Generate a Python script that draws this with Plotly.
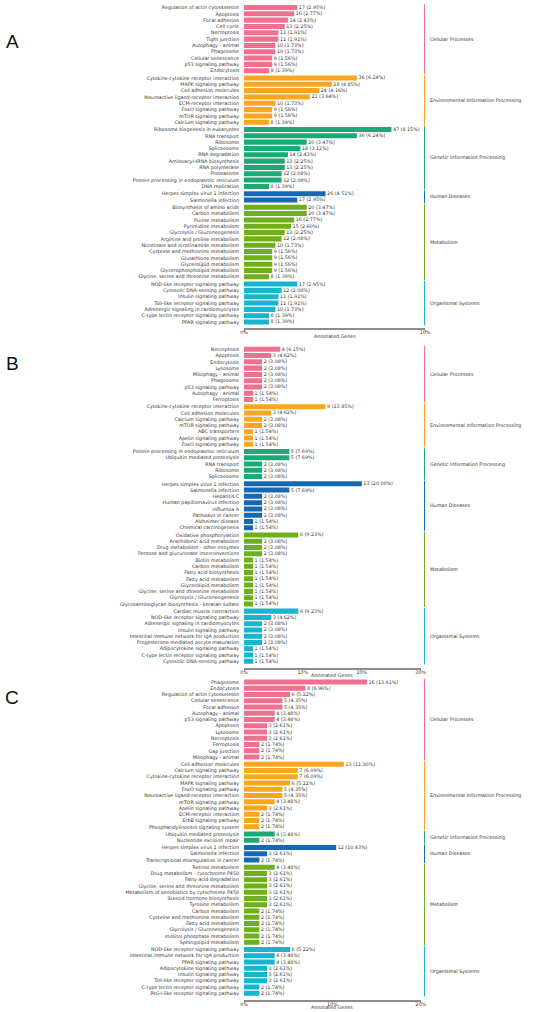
import plotly.graph_objects as go

CLASSES = ["Cellular Processes", "Environmental Information Processing",
           "Genetic Information Processing", "Human Diseases",
           "Metabolism", "Organismal Systems"]
CLASS_COLORS = ["#F2708F", "#FBA61E", "#1BAA76", "#1668B2", "#6DB01C", "#19B4CE"]

# panel A
a_pathways = [
    "Regulation of actin cytoskeleton", "Apoptosis", "Focal adhesion", "Cell cycle",
    "Necroptosis", "Tight junction", "Autophagy - animal", "Phagosome",
    "Cellular senescence", "p53 signaling pathway", "Endocytosis",
    "Cytokine-cytokine receptor interaction", "MAPK signaling pathway",
    "Cell adhesion molecules", "Neuroactive ligand-receptor interaction",
    "ECM-receptor interaction", "FoxO signaling pathway", "mTOR signaling pathway",
    "Calcium signaling pathway",
    "Ribosome biogenesis in eukaryotes", "RNA transport", "Ribosome", "Spliceosome",
    "RNA degradation", "Aminoacyl-tRNA biosynthesis", "RNA polymerase", "Proteasome",
    "Protein processing in endoplasmic reticulum", "DNA replication",
    "Herpes simplex virus 1 infection", "Salmonella infection",
    "Biosynthesis of amino acids", "Carbon metabolism", "Purine metabolism",
    "Pyrimidine metabolism", "Glycolysis / Gluconeogenesis",
    "Arginine and proline metabolism", "Nicotinate and nicotinamide metabolism",
    "Cysteine and methionine metabolism", "Glutathione metabolism",
    "Glycerolipid metabolism", "Glycerophospholipid metabolism",
    "Glycine, serine and threonine metabolism",
    "NOD-like receptor signaling pathway", "Cytosolic DNA-sensing pathway",
    "Insulin signaling pathway", "Toll-like receptor signaling pathway",
    "Adrenergic signaling in cardiomyocytes", "C-type lectin receptor signaling pathway",
    "PPAR signaling pathway",
]
a_genes = [17, 16, 14, 13, 11, 11, 10, 10, 9, 9, 8,
           36, 28, 24, 21, 10, 9, 9, 8,
           47, 36, 20, 18, 14, 13, 13, 12, 12, 8,
           26, 17,
           20, 20, 16, 15, 13, 12, 10, 9, 9, 9, 9, 8,
           17, 12, 11, 11, 10, 8, 8]
a_class_sizes = [11, 8, 10, 2, 12, 7]
a_total = 577

# panel B
b_pathways = [
    "Necroptosis", "Apoptosis", "Endocytosis", "Lysosome", "Mitophagy - animal",
    "Phagosome", "p53 signaling pathway", "Autophagy - animal", "Ferroptosis",
    "Cytokine-cytokine receptor interaction", "Cell adhesion molecules",
    "Calcium signaling pathway", "mTOR signaling pathway", "ABC transporters",
    "Apelin signaling pathway", "FoxO signaling pathway",
    "Protein processing in endoplasmic reticulum", "Ubiquitin mediated proteolysis",
    "RNA transport", "Ribosome", "Spliceosome",
    "Herpes simplex virus 1 infection", "Salmonella infection", "Hepatitis C",
    "Human papillomavirus infection", "Influenza A", "Pathways in cancer",
    "Alzheimer disease", "Chemical carcinogenesis",
    "Oxidative phosphorylation", "Arachidonic acid metabolism",
    "Drug metabolism - other enzymes", "Pentose and glucuronate interconversions",
    "Biotin metabolism", "Carbon metabolism", "Fatty acid biosynthesis",
    "Fatty acid metabolism", "Glycerolipid metabolism",
    "Glycine, serine and threonine metabolism", "Glycolysis / Gluconeogenesis",
    "Glycosaminoglycan biosynthesis - keratan sulfate",
    "Cardiac muscle contraction", "NOD-like receptor signaling pathway",
    "Adrenergic signaling in cardiomyocytes", "Insulin signaling pathway",
    "Intestinal immune network for IgA production",
    "Progesterone-mediated oocyte maturation", "Adipocytokine signaling pathway",
    "C-type lectin receptor signaling pathway", "Cytosolic DNA-sensing pathway",
]
b_genes = [4, 3, 2, 2, 2, 2, 2, 1, 1,
           9, 3, 2, 2, 1, 1, 1,
           5, 5, 2, 2, 2,
           13, 5, 2, 2, 2, 2, 1, 1,
           6, 2, 2, 2, 1, 1, 1, 1, 1, 1, 1, 1,
           6, 3, 2, 2, 2, 2, 1, 1, 1]
b_class_sizes = [9, 7, 5, 8, 12, 9]
b_total = 65

# panel C
c_pathways = [
    "Phagosome", "Endocytosis", "Regulation of actin cytoskeleton",
    "Cellular senescence", "Focal adhesion", "Autophagy - animal",
    "p53 signaling pathway", "Apoptosis", "Lysosome", "Necroptosis", "Ferroptosis",
    "Gap junction", "Mitophagy - animal",
    "Cell adhesion molecules", "Calcium signaling pathway",
    "Cytokine-cytokine receptor interaction", "MAPK signaling pathway",
    "FoxO signaling pathway", "Neuroactive ligand-receptor interaction",
    "mTOR signaling pathway", "Apelin signaling pathway", "ECM-receptor interaction",
    "ErbB signaling pathway", "Phosphatidylinositol signaling system",
    "Ubiquitin mediated proteolysis", "Nucleotide excision repair",
    "Herpes simplex virus 1 infection", "Salmonella infection",
    "Transcriptional misregulation in cancer",
    "Retinol metabolism", "Drug metabolism - cytochrome P450",
    "Fatty acid degradation", "Glycine, serine and threonine metabolism",
    "Metabolism of xenobiotics by cytochrome P450", "Steroid hormone biosynthesis",
    "Tyrosine metabolism", "Carbon metabolism", "Cysteine and methionine metabolism",
    "Fatty acid metabolism", "Glycolysis / Gluconeogenesis",
    "Inositol phosphate metabolism", "Sphingolipid metabolism",
    "NOD-like receptor signaling pathway",
    "Intestinal immune network for IgA production", "PPAR signaling pathway",
    "Adipocytokine signaling pathway", "Insulin signaling pathway",
    "Toll-like receptor signaling pathway", "C-type lectin receptor signaling pathway",
    "RIG-I-like receptor signaling pathway",
]
c_genes = [16, 8, 6, 5, 5, 4, 4, 3, 3, 3, 2, 2, 2,
           13, 7, 7, 6, 5, 5, 4, 3, 2, 2, 2,
           4, 2,
           12, 3, 2,
           4, 3, 3, 3, 3, 3, 3, 2, 2, 2, 2, 2, 2,
           6, 4, 4, 3, 3, 3, 2, 2]
c_class_sizes = [13, 11, 2, 3, 13, 8]
c_total = 115

W, H = 550, 1012
GAP = 0.15
FONT = "DejaVu Sans"
FS = 4.8

# letter, data, x max, ticks, first/last bar centre (px), axis end (px), letter y (px)
panels = [
    ("A", a_pathways, a_genes, a_class_sizes, a_total, 10, [0, 10], 7.5, 322.0, 425.0, 42),
    ("B", b_pathways, b_genes, b_class_sizes, b_total, 30, [0, 10, 20, 30], 349.3, 661.3, 420.7, 363),
    ("C", c_pathways, c_genes, c_class_sizes, c_total, 20, [0, 10, 20], 682.0, 993.3, 420.7, 697),
]

X0_PX = 244.0
LINE_PX = 424.5

fig = go.Figure()
shapes = []
annotations = []

for k, (letter, names, genes, sizes, total, xmax, ticks, first_px, last_px, x1_px, letter_px) in enumerate(panels):
    sfx = "" if k == 0 else str(k + 1)
    pos, cls = [], []
    p = 0.0
    for gi, n in enumerate(sizes):
        for _ in range(n):
            pos.append(p)
            cls.append(gi)
            p += 1
        p += GAP
    pct = [g / total * 100 for g in genes]
    unit = (last_px - first_px) / pos[-1]
    top_px = max(0.0, first_px - 0.6 * unit)
    bot_px = last_px + 1.0 * unit
    range_top = -(first_px - top_px) / unit

    fig.add_trace(go.Bar(
        x=pct, y=pos, orientation="h", width=0.8,
        marker=dict(color=[CLASS_COLORS[c] for c in cls], line=dict(width=0)),
        text=[f"\u00a0{g} ({v:.2f}%)" for g, v in zip(genes, pct)],
        textposition="outside", constraintext="none", cliponaxis=False,
        textfont=dict(size=FS, color="#333333", family=FONT),
        xaxis="x" + sfx, yaxis="y" + sfx, showlegend=False, hoverinfo="skip",
    ))

    fig.layout["xaxis" + sfx] = dict(
        domain=[X0_PX / W, x1_px / W], range=[0, xmax], anchor="y" + sfx,
        showgrid=False, zeroline=False, showline=True, linecolor="#8c8c8c",
        linewidth=1.5, ticks="outside", ticklen=1.5, tickcolor="#8c8c8c",
        tickvals=ticks, ticktext=[f"{t}%" for t in ticks], ticklabelstandoff=-3,
        tickfont=dict(size=FS, color="#333333", family=FONT),
        automargin=False,
    )
    fig.layout["yaxis" + sfx] = dict(
        domain=[1 - bot_px / H, 1 - top_px / H], range=[pos[-1] + 1.0, range_top],
        anchor="x" + sfx, showgrid=False, zeroline=False, showline=False,
        tickvals=pos, ticktext=names, ticks="", ticklabelstandoff=4,
        tickfont=dict(size=FS, color="#333333", family=FONT),
        automargin=False,
    )

    # axis title
    annotations.append(dict(x=(X0_PX + x1_px) / 2 / W, xref="paper", xanchor="center",
                            y=1 - (bot_px + 8) / H, yref="paper", yanchor="middle",
                            text="Annotated Genes", showarrow=False,
                            font=dict(size=FS, color="#333333", family=FONT)))

    start = 0
    for gi, n in enumerate(sizes):
        y0 = pos[start] - 0.5
        y1 = pos[start + n - 1] + 0.5
        shapes.append(dict(type="line", xref="paper", yref="y" + sfx,
                           x0=LINE_PX / W, x1=LINE_PX / W, y0=y0, y1=y1,
                           line=dict(color=CLASS_COLORS[gi], width=1)))
        annotations.append(dict(x=(LINE_PX + 3) / W, xref="paper", xanchor="left",
                                y=(y0 + y1) / 2, yref="y" + sfx, yanchor="middle",
                                text=CLASSES[gi], showarrow=False,
                                font=dict(size=FS, color="#333333", family=FONT)))
        start += n

    annotations.append(dict(x=12 / W, xref="paper", xanchor="center",
                            y=1 - letter_px / H, yref="paper", yanchor="middle",
                            text=letter, showarrow=False,
                            font=dict(size=19, color="#111111", family="Liberation Sans")))

fig.update_layout(
    width=W, height=H, margin=dict(l=0, r=0, t=0, b=0),
    paper_bgcolor="white", plot_bgcolor="white",
    bargap=0.2, shapes=shapes, annotations=annotations,
)

# drop the default page margin so the figure sits at the window's corner
fig.write_html("out.html", config={"displayModeBar": False},
               post_script="document.body.style.margin = '0px';")
